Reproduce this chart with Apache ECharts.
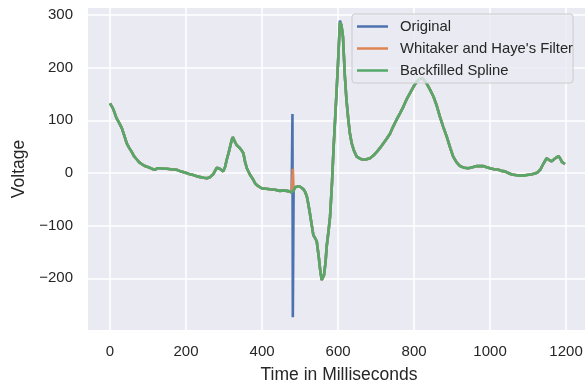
<!DOCTYPE html>
<html>
<head>
<meta charset="utf-8">
<script src="https://cdn.jsdelivr.net/npm/echarts@6/dist/echarts.min.js"></script>
<style>html,body{margin:0;padding:0;background:#fff}#c{width:585px;height:383px}</style>
</head>
<body>
<div id="c"></div>
<script>
// Time axis (ms) and voltages of the backfilled spline
const splineTimes = [0,8,17,24,31,38,44,50,57,63,70,77,83,92,101,110,118,125,132,140,149,160,175,186,197,208,219,232,246,255,263,268,272,277,281,285,289,294,298,303,307,312,316,320,323,328,333,338,342,347,351,355,360,368,377,382,388,393,399,410,421,434,447,456,465,472,478,483,487,491,496,502,509,514,518,522,526,531,535,540,544,549,553,557,560,563,567,570,575,579,584,588,595,600,605,609,613,618,622,627,631,636,642,649,658,667,675,684,693,702,710,719,728,737,745,754,763,772,780,789,798,807,814,820,826,833,842,851,860,868,877,886,895,903,912,921,932,943,954,965,974,982,991,1000,1011,1022,1030,1039,1048,1057,1066,1075,1086,1097,1108,1118,1125,1132,1140,1149,1155,1162,1170,1180,1185,1189,1193,1197];
const splineValues = [132,122,104,95,85,70,56,48,40,32,26,20,17,13,11,8,6,9,9,8,8,7,6,3,1,-2,-4,-7,-9,-10,-8,-5,-2,5,10,9,8,5,3,12,25,38,50,62,68,60,53,50,47,42,37,22,9,-3,-13,-20,-24,-26,-29,-30,-31,-32,-34,-33,-34,-35,-37,-33,-27,-26,-25,-27,-31,-37,-45,-60,-77,-100,-118,-124,-130,-158,-184,-203,-200,-194,-170,-140,-110,-83,-20,44,139,210,286,280,258,183,140,101,76,56,42,31,27,25,26,28,33,40,47,56,65,75,88,101,113,126,139,151,163,173,178,180,177,170,158,145,127,107,87,69,48,31,20,13,10,9,11,13,13,13,11,9,7,6,4,3,0,-3,-4,-5,-5,-4,-3,-1,1,6,17,28,25,22,27,32,27,21,19,17];
// Artifact in the original recording
const originalSpikeTimes = [480, 481];
const originalSpikeValues = [112, -274];
// Residual of the artifact after the Whittaker filter
const filterSpikeTimes = [481];
const filterSpikeValues = [8];
const peakOriginal = {time: 605, value: 289};

const xTicks = [0,200,400,600,800,1000,1200];
const yTicks = [-200,-100,0,100,200,300];

function pairs(ts, vs){ return ts.map((t,i)=>[t, vs[i]]); }
function withSpikes(ts, vs, sts, svs, peak){
  const base = pairs(ts, vs).map(p => (peak && p[0]===peak.time) ? [p[0], peak.value] : p);
  const add = pairs(sts, svs);
  return base.concat(add).sort((a,b)=>a[0]-b[0]);
}
const splineData = pairs(splineTimes, splineValues);
const originalData = withSpikes(splineTimes, splineValues, originalSpikeTimes, originalSpikeValues, peakOriginal);
const filterData = withSpikes(splineTimes, splineValues, filterSpikeTimes, filterSpikeValues, null);

const txt = '#262626';
const font = 'Liberation Sans, Arial, sans-serif';
const fmt = v => v < 0 ? '\u2212' + Math.abs(v) : String(v);
const lineIcon = 'path://M0,0 L62,0 L62,5 L0,5 Z';

const chart = echarts.init(document.getElementById('c'), null, {renderer:'canvas'});
chart.setOption({
  animation: false,
  backgroundColor: '#ffffff',
  textStyle: {fontFamily: font},
  grid: {left: 88, top: 8, right: -5, bottom: 53, show: true, backgroundColor: '#eaeaf2', borderWidth: 0, containLabel: false, outerBoundsMode: 'none'},
  legend: {
    orient: 'vertical', left: 352, top: 14,
    padding: [5, 0, 5, 5],
    itemWidth: 31, itemHeight: 14, itemGap: 7,
    icon: lineIcon,
    backgroundColor: 'rgba(234,234,242,0.8)', borderColor: '#cccccc', borderWidth: 1, borderRadius: 3,
    textStyle: {color: txt, fontSize: 14.8, fontFamily: font, padding: [0,0,0,7]},
    data: ['Original', "Whitaker and Haye's Filter", 'Backfilled Spline']
  },
  xAxis: {
    type: 'value', min: -58, max: 1263, minInterval: 200, maxInterval: 200,
    name: 'Time in Milliseconds', nameLocation: 'middle', nameGap: 36,
    nameTextStyle: {color: txt, fontSize: 17.5, fontFamily: font},
    axisLine: {show: false}, axisTick: {show: false},
    axisLabel: {color: txt, fontSize: 15, margin: 14, showMinLabel: false, showMaxLabel: false,
      formatter: v => xTicks.includes(v) ? fmt(v) : ''},
    splitLine: {show: true, showMinLine: false, showMaxLine: false, lineStyle: {color: '#ffffff', width: 1.6}}
  },
  yAxis: {
    type: 'value', min: -298, max: 313, minInterval: 100, maxInterval: 100,
    name: 'Voltage', nameLocation: 'middle', nameGap: 59,
    nameTextStyle: {color: txt, fontSize: 17.5, fontFamily: font},
    axisLine: {show: false}, axisTick: {show: false},
    axisLabel: {color: txt, fontSize: 15, margin: 15, showMinLabel: false, showMaxLabel: false,
      formatter: v => yTicks.includes(v) ? fmt(v) : ''},
    splitLine: {show: true, showMinLine: false, showMaxLine: false, lineStyle: {color: '#ffffff', width: 1.6}}
  },
  series: [
    {name: 'Original', type: 'line', data: originalData, symbol: 'none', color: '#4c72b0', lineStyle: {width: 2.6, color: '#4c72b0'}},
    {name: "Whitaker and Haye's Filter", type: 'line', data: filterData, symbol: 'none', color: '#dd8452', lineStyle: {width: 2.6, color: '#dd8452'}},
    {name: 'Backfilled Spline', type: 'line', data: splineData, symbol: 'none', color: '#55a868', lineStyle: {width: 2.6, color: '#55a868'}}
  ]
});
</script>
</body>
</html>
